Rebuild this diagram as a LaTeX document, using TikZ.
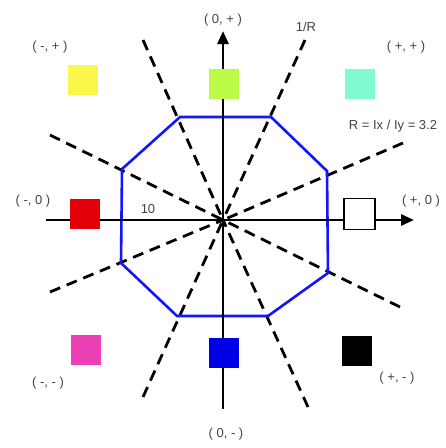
\documentclass[tikz,border=0pt]{standalone}
\usepackage{fontspec}
\setmainfont{Liberation Sans}
\usetikzlibrary{arrows.meta}
\definecolor{cyel}{RGB}{249,248,74}
\definecolor{clime}{RGB}{188,250,72}
\definecolor{caqua}{RGB}{128,250,208}
\definecolor{cred}{RGB}{228,0,8}
\definecolor{cmag}{RGB}{236,64,180}
\definecolor{cblue}{RGB}{0,0,228}
\definecolor{ctext}{RGB}{68,68,68}
\definecolor{coct}{RGB}{20,20,255}
\tikzset{
  sq/.style={minimum size=30pt, inner sep=0pt, draw=none, fill=#1},
  lbl/.style={text=ctext, font=\fontsize{13pt}{15pt}\selectfont, inner sep=1pt},
  axis/.style={line width=2.8pt, -{Triangle[length=13pt,width=11pt]}},
  dline/.style={line width=2.8pt, dash pattern=on 11pt off 7pt},
  oct/.style={line width=2.6pt, draw=coct, line join=miter}
}
\begin{document}
\begin{tikzpicture}[x=1pt,y=-1pt]
\useasboundingbox (0,0) rectangle (446,448);
\fill[white] (0,0) rectangle (446,448);
\coordinate (c) at (223,220);
% dashed line ends
\coordinate (d1a) at (143,40);
\coordinate (d1b) at (308,407);
\coordinate (d2a) at (305,40);
\coordinate (d2b) at (143,397);
\coordinate (d3a) at (50,135);
\coordinate (d3b) at (400,307);
\coordinate (d4a) at (403,143);
\coordinate (d4b) at (50,292);
\foreach \e in {d1a,d1b,d2a,d2b,d3a,d3b,d4a,d4b}
  \draw[dline] (\e) -- (c);
% octagon
\coordinate (o1) at (180,117);
\coordinate (o2) at (271,117);
\coordinate (o3) at (327,171);
\coordinate (o4) at (328,273);
\coordinate (o5) at (268,316);
\coordinate (o6) at (177,316);
\coordinate (o7) at (121,263);
\coordinate (o8) at (122,169);
\draw[oct] (o1) -- (o2) -- (o3) -- (o4) -- (o5) -- (o6) -- (o7) -- (o8) -- cycle;
% axes
\coordinate (xl) at (46,220);
\coordinate (xr) at (414,220);
\coordinate (yb) at (223,409);
\coordinate (yt) at (223,31);
\draw[axis] (xl) -- (xr);
\draw[axis] (yb) -- (yt);
% squares
\node[sq=cyel] (s1) at (83,80) {};
\node[sq=clime] (s2) at (224,84) {};
\node[sq=caqua] (s3) at (360,84) {};
\node[sq=cred] (s4) at (85,214) {};
\node[minimum size=31pt, inner sep=0pt, draw=black, line width=1.3pt, fill=white] (s5) at (359.5,214) {};
\node[sq=cmag] (s6) at (86,350) {};
\node[sq=cblue] (s7) at (224,353) {};
\node[sq=black] (s8) at (357,351) {};
% labels
\node[lbl] (l0p) at (223,20) {( 0, + )};
\node[lbl] (lR) at (306,27) {1/R};
\node[lbl] (lmp) at (50,47) {( -, + )};
\node[lbl] (lpp) at (406,47) {( +, + )};
\node[lbl] (lRR) at (393,126) {R = Ix / Iy = 3.2};
\node[lbl] (lm0) at (33,201) {( -, 0 )};
\node[lbl] (l10) at (148,209) {10};
\node[lbl] (lp0) at (421,201) {( +, 0 )};
\node[lbl] (lmm) at (48,383) {( -, - )};
\node[lbl] (lpm) at (397,378) {( +, - )};
\node[lbl] (l0m) at (226,434) {( 0, - )};
\end{tikzpicture}
\end{document}
